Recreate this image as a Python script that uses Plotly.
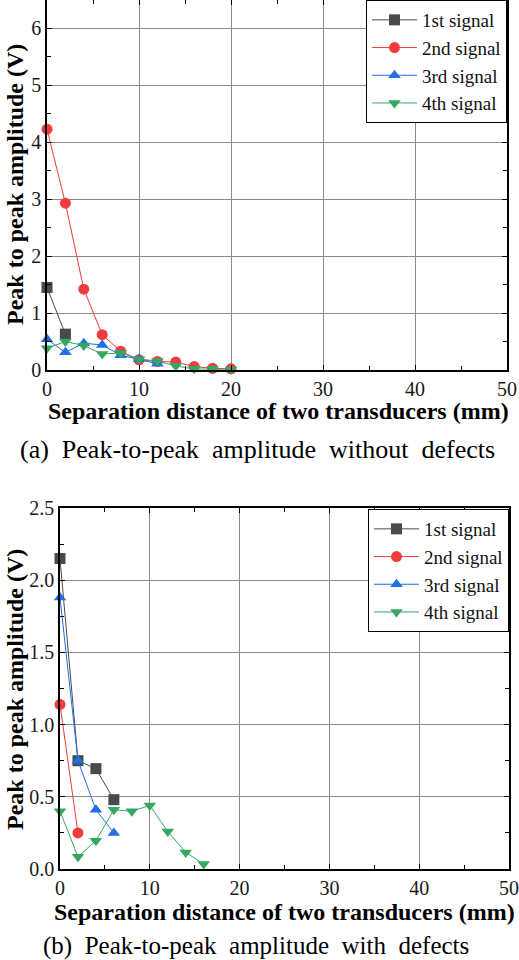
import plotly.graph_objects as go

# ---- data: (a) without defects ----
a_x1 = [0, 2]
a_y1 = [1.45, 0.63]
a_x2 = [0, 2, 4, 6, 8, 10, 12, 14, 16, 18, 20]
a_y2 = [4.23, 2.93, 1.42, 0.62, 0.33, 0.18, 0.15, 0.14, 0.06, 0.03, 0.02]
a_x3 = [0, 2, 4, 6, 8, 10, 12]
a_y3 = [0.54, 0.31, 0.47, 0.44, 0.26, 0.19, 0.11]
a_x4 = [0, 2, 4, 6, 8, 10, 12, 14, 16, 18, 20]
a_y4 = [0.38, 0.50, 0.43, 0.28, 0.30, 0.19, 0.16, 0.07, 0.02, 0.02, 0.01]

# ---- data: (b) with defects ----
b_x1 = [0, 2, 4, 6]
b_y1 = [2.15, 0.75, 0.695, 0.48]
b_x2 = [0, 2]
b_y2 = [1.14, 0.25]
b_x3 = [0, 2, 4, 6]
b_y3 = [1.88, 0.75, 0.41, 0.25]
b_x4 = [0, 2, 4, 6, 8, 10, 12, 14, 16]
b_y4 = [0.40, 0.085, 0.196, 0.41, 0.40, 0.44, 0.26, 0.115, 0.035]

names = ["1st signal", "2nd signal", "3rd signal", "4th signal"]
colors = ["#4a4a4a", "#f03c3c", "#1f6fe6", "#33a862"]
symbols = ["square", "circle", "triangle-up", "triangle-down"]

W, H = 519, 960
SERIF = "Liberation Serif"

fig = go.Figure()

a_sets = [(a_x1, a_y1), (a_x2, a_y2), (a_x3, a_y3), (a_x4, a_y4)]
b_sets = [(b_x1, b_y1), (b_x2, b_y2), (b_x3, b_y3), (b_x4, b_y4)]

for i, (xs, ys) in enumerate(a_sets):
    fig.add_trace(go.Scatter(
        x=xs, y=ys, name=names[i], mode="lines+markers",
        line=dict(color=colors[i], width=1),
        marker=dict(color=colors[i], symbol=symbols[i], size=11),
        xaxis="x", yaxis="y", legend="legend", cliponaxis=False))
for i, (xs, ys) in enumerate(b_sets):
    fig.add_trace(go.Scatter(
        x=xs, y=ys, name=names[i], mode="lines+markers",
        line=dict(color=colors[i], width=1),
        marker=dict(color=colors[i], symbol=symbols[i], size=11),
        xaxis="x2", yaxis="y2", legend="legend2", cliponaxis=False))

def px_x(p):
    return p / W

def px_y(p):
    return 1 - p / H

axis_common = dict(
    showline=True, linecolor="black", linewidth=1.5, mirror="ticks",
    ticks="inside", ticklen=5, tickcolor="black", tickwidth=1,
    showgrid=True, gridcolor="#8a8a8a", gridwidth=1,
    zeroline=False, automargin=False, ticklabeloverflow="allow",
    tickfont=dict(family=SERIF, size=20, color="#1a1a1a"),
)

fig.update_layout(
    template="none",
    width=W, height=H,
    margin=dict(l=0, r=0, t=0, b=0, pad=0),
    paper_bgcolor="white", plot_bgcolor="white",
    font=dict(family=SERIF),
    xaxis=dict(domain=[px_x(47), px_x(507)], anchor="y", range=[0, 50],
               dtick=10, minor=dict(dtick=5, ticks="inside", ticklen=4, tickcolor="black", showgrid=False),
               **axis_common),
    yaxis=dict(domain=[px_y(370), px_y(0)], anchor="x", range=[0, 6.5],
               dtick=1, minor=dict(dtick=0.5, ticks="inside", ticklen=4, tickcolor="black", showgrid=False),
               **axis_common),
    xaxis2=dict(domain=[px_x(60), px_x(509)], anchor="y2", range=[0, 50],
                dtick=10, minor=dict(dtick=5, ticks="inside", ticklen=4, tickcolor="black", showgrid=False),
                **axis_common),
    yaxis2=dict(domain=[px_y(869), px_y(508)], anchor="x2", range=[0, 2.5],
                dtick=0.5, tickformat=".1f",
                minor=dict(dtick=0.25, ticks="inside", ticklen=4, tickcolor="black", showgrid=False),
                **axis_common),
    legend=dict(x=px_x(507), y=px_y(0), xanchor="right", yanchor="top",
                bordercolor="black", borderwidth=1, bgcolor="white",
                font=dict(family=SERIF, size=19, color="#111"),
                itemwidth=45, tracegroupgap=0),
    legend2=dict(x=px_x(509), y=px_y(509), xanchor="right", yanchor="top",
                 bordercolor="black", borderwidth=1, bgcolor="white",
                 font=dict(family=SERIF, size=19, color="#111"),
                 itemwidth=45, tracegroupgap=0),
    showlegend=True,
)

def ann(text, x, y, size, angle=0):
    return dict(text=text, x=px_x(x), y=px_y(y), xref="paper", yref="paper",
                xanchor="center", yanchor="middle", textangle=angle,
                showarrow=False, font=dict(family=SERIF, size=size, color="black"))

annotations = [
    ann("<b>Separation distance of two transducers (mm)</b>", 278, 411, 24),
    ann("<b>Peak to peak amplitude (V)</b>", 15, 185, 24, -90),
    ann("(a)  Peak-to-peak  amplitude  without  defects", 257, 449, 26),
    ann("<b>Separation distance of two transducers (mm)</b>", 284, 912, 24),
    ann("<b>Peak to peak amplitude (V)</b>", 15, 690, 24, -90),
    ann("(b)  Peak-to-peak  amplitude  with  defects", 256, 946, 25),
]
fig.update_layout(annotations=annotations)

fig.write_html("out.html", config={"displayModeBar": False},
               post_script="document.body.style.margin='0';document.body.style.padding='0';")
